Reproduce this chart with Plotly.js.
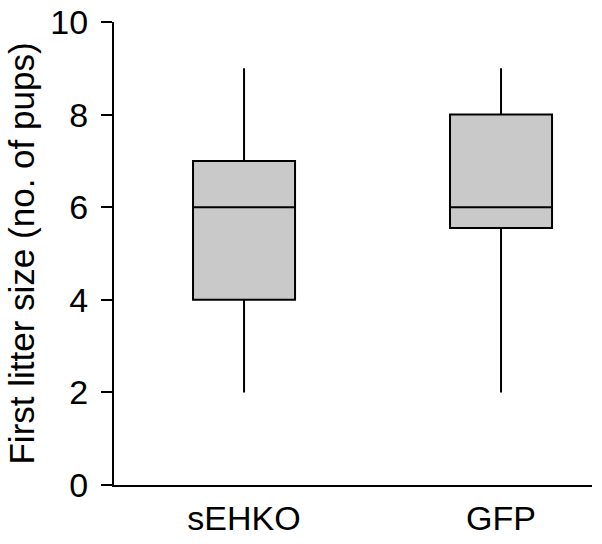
<!DOCTYPE html>
<html>
<head>
<meta charset="utf-8">
<script src="https://cdn.plot.ly/plotly-3.0.1.min.js"></script>
<style>
  html, body { margin: 0; padding: 0; background: #fff; }
  #chart { width: 602px; height: 544px; }
</style>
</head>
<body>
<div id="chart"></div>
<script>
// groups and box statistics
const groups = ["sEHKO", "GFP"];
const lowerWhisker = [2, 2];
const q1 = [4, 5.55];
const median = [6, 6];
const q3 = [7, 8];
const upperWhisker = [9, 9];
const yTicks = [0, 2, 4, 6, 8, 10];

const font = { family: "Liberation Sans, Arial, sans-serif", size: 34, color: "#000" };

const traces = [{
  type: "box",
  x: groups,
  q1: q1,
  median: median,
  q3: q3,
  lowerfence: lowerWhisker,
  upperfence: upperWhisker,
  width: 0.397,
  whiskerwidth: 0,
  fillcolor: "#c9c9c9",
  line: { color: "#000", width: 2 },
  boxpoints: false,
  hoverinfo: "skip",
  showlegend: false,
}];

const layout = {
  width: 602,
  height: 544,
  font: font,
  paper_bgcolor: "#fff",
  plot_bgcolor: "#fff",
  margin: { t: 22, l: 114, r: 10, b: 59 },
  xaxis: {
    type: "category",
    range: [-0.506, 1.354],
    showline: true,
    linecolor: "#000",
    linewidth: 2,
    ticks: "",
    ticklabelstandoff: 2,
    showgrid: false,
    zeroline: false,
    tickfont: font,
    fixedrange: true,
  },
  yaxis: {
    range: [0, 10],
    tickvals: yTicks,
    showline: true,
    linecolor: "#000",
    linewidth: 2,
    ticks: "outside",
    ticklen: 11,
    tickwidth: 2,
    tickcolor: "#000",
    ticklabelstandoff: 6,
    showgrid: false,
    zeroline: false,
    tickfont: font,
    title: { text: "First litter size (no. of pups)", font: { ...font, size: 35 }, standoff: 5 },
    fixedrange: true,
  },
};

Plotly.newPlot("chart", traces, layout, { displayModeBar: false, staticPlot: true });
</script>
</body>
</html>
